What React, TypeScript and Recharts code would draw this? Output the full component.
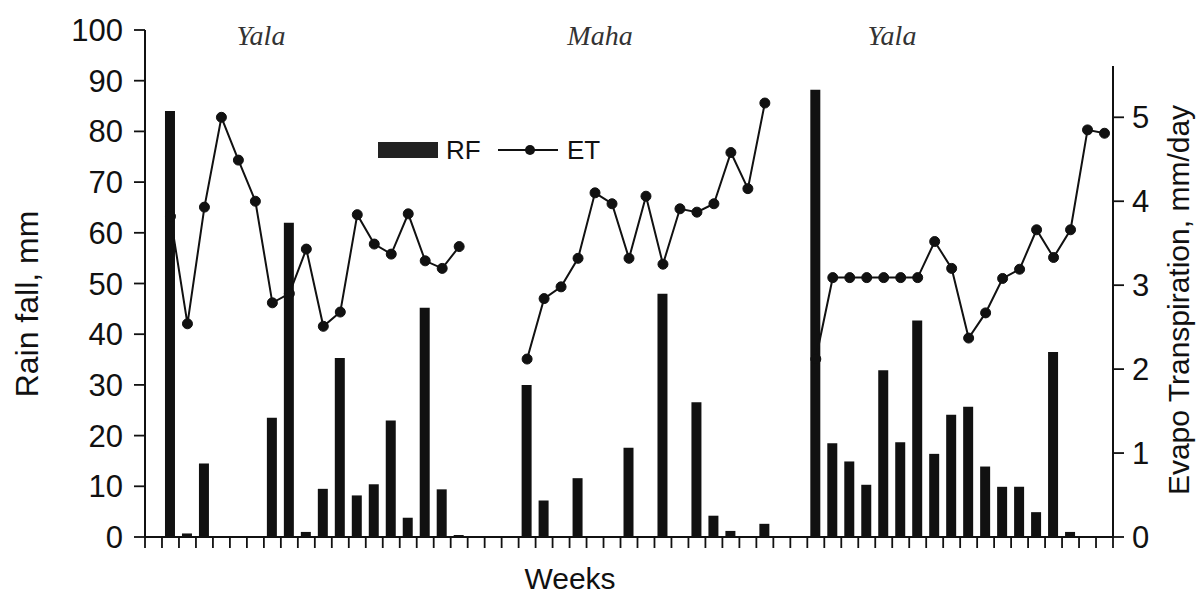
import { Bar, ComposedChart, Line, XAxis, YAxis } from 'recharts';

// ─── Data ───────────────────────────────────────────────────────────────────

// Weekly rainfall, mm (left axis)
const RAINFALL = [
  0, 84, 0.7, 14.5, 0, 0, 0, 23.5, 62, 1, 9.5, 35.3, 8.2, 10.4, 23, 3.8, 45.2, 9.4, 0.4,
  0, 0, 0,
  30, 7.2, 0, 11.6, 0, 0, 17.6, 0, 48, 0, 26.6, 4.2, 1.2, 0, 2.6,
  0, 0,
  88.2, 18.5, 14.9, 10.3, 32.9, 18.7, 42.7, 16.4, 24.1, 25.7, 13.9, 9.9, 9.9, 4.9, 36.5, 1.0, 0, 0,
];

// Weekly evapotranspiration, mm/day (right axis); null = no reading
const EVAPO = [
  null, 3.82, 2.54, 3.93, 5.0, 4.49, 4.0, 2.79, 2.9, 3.43, 2.51, 2.68, 3.84, 3.49, 3.37, 3.85, 3.29, 3.2, 3.46,
  null, null, null,
  2.12, 2.84, 2.98, 3.32, 4.1, 3.97, 3.32, 4.06, 3.25, 3.91, 3.87, 3.97, 4.58, 4.15, 5.17,
  null, null,
  2.12, 3.09, 3.09, 3.09, 3.09, 3.09, 3.09, 3.52, 3.2, 2.37, 2.67, 3.08, 3.19, 3.66, 3.33, 3.66, 4.85, 4.81,
];

const WEEKS = RAINFALL.map((_, i) => i + 1);

const RF_TICKS = [0, 10, 20, 30, 40, 50, 60, 70, 80, 90, 100];
const ET_TICKS = [0, 1, 2, 3, 4, 5];

const SEASONS = ['Yala', 'Maha', 'Yala'];

// ─── Layout ─────────────────────────────────────────────────────────────────

const WIDTH = 1203;
const HEIGHT = 594;
const PLOT_LEFT = 145;
const PLOT_RIGHT = 1113;
const PLOT_TOP = 30;
const PLOT_BOTTOM = 537;
const ET_MAX = 6.04;
const ET_AXIS_TOP = 5.61;

const SANS = '"Liberation Sans", Arial, sans-serif';
const SERIF = '"Liberation Serif", "Times New Roman", serif';
const INK = '#111';

const SEASON_X = [261, 600, 892];

const chartData = WEEKS.map((week, i) => ({
  week,
  rf: RAINFALL[i],
  et: EVAPO[i],
}));

function WeekTick(props: any) {
  const { x, y, index } = props;
  const step = (PLOT_RIGHT - PLOT_LEFT) / WEEKS.length;
  const left = x - step / 2;
  return (
    <g>
      <line x1={left} y1={y} x2={left} y2={y + 11} stroke={INK} strokeWidth={1.8} />
      {index === WEEKS.length - 1 && (
        <line x1={x + step / 2} y1={y} x2={x + step / 2} y2={y + 11} stroke={INK} strokeWidth={1.8} />
      )}
    </g>
  );
}

function RainTitle() {
  return (
    <text
      x={38}
      y={304}
      transform="rotate(-90 38 304)"
      textAnchor="middle"
      fontFamily={SANS}
      fontSize={32}
      fill={INK}
    >
      Rain fall, mm
    </text>
  );
}

function EvapoTitle() {
  const yTop = PLOT_BOTTOM - (ET_AXIS_TOP / ET_MAX) * (PLOT_BOTTOM - PLOT_TOP);
  return (
    <g>
      <line x1={PLOT_RIGHT} y1={yTop} x2={PLOT_RIGHT} y2={PLOT_BOTTOM} stroke={INK} strokeWidth={2} />
      <text
        x={1189}
        y={300}
        transform="rotate(-90 1189 300)"
        textAnchor="middle"
        fontFamily={SANS}
        fontSize={30}
        fill={INK}
      >
        Evapo Transpiration, mm/day
      </text>
    </g>
  );
}

function WeeksTitle() {
  return (
    <text x={570} y={589} textAnchor="middle" fontFamily={SANS} fontSize={30} fill={INK}>
      Weeks
    </text>
  );
}

function Overlay() {
  return (
    <svg
      width={WIDTH}
      height={HEIGHT}
      style={{ position: 'absolute', left: 0, top: 0, pointerEvents: 'none' }}
    >
      {SEASONS.map((name, i) => (
        <text
          key={i}
          x={SEASON_X[i]}
          y={45}
          textAnchor="middle"
          fontFamily={SERIF}
          fontStyle="italic"
          fontSize={28}
          fill="#333"
        >
          {name}
        </text>
      ))}
      {/* legend */}
      <rect x={378} y={142} width={60} height={16} fill="#222" />
      <text x={446} y={159} fontFamily={SANS} fontSize={26} fill={INK}>
        RF
      </text>
      <line x1={498} y1={150} x2={558} y2={150} stroke={INK} strokeWidth={2} />
      <circle cx={530} cy={150} r={5} fill={INK} />
      <text x={567} y={159} fontFamily={SANS} fontSize={26} fill={INK}>
        ET
      </text>
    </svg>
  );
}

export default function App() {
  return (
    <div style={{ position: 'relative', width: WIDTH, height: HEIGHT, background: '#fff' }}>
      <style>{'body{margin:0}'}</style>
      <ComposedChart
        width={WIDTH}
        height={HEIGHT}
        data={chartData}
        margin={{ top: PLOT_TOP, right: 0, bottom: 0, left: 0 }}
      >
        <XAxis
          dataKey="week"
          height={HEIGHT - PLOT_BOTTOM}
          interval={0}
          tickLine={false}
          tickSize={0}
          tickMargin={0}
          tick={<WeekTick />}
          axisLine={{ stroke: INK, strokeWidth: 2 }}
          label={<WeeksTitle />}
        />
        <YAxis
          yAxisId="rf"
          orientation="left"
          width={PLOT_LEFT}
          domain={[0, 100]}
          ticks={RF_TICKS}
          interval={0}
          tickSize={11}
          tickMargin={11}
          axisLine={{ stroke: INK, strokeWidth: 2 }}
          tickLine={{ stroke: INK, strokeWidth: 1.8 }}
          tick={{ fill: INK, fontSize: 31, fontFamily: SANS }}
          label={<RainTitle />}
        />
        <YAxis
          yAxisId="et"
          orientation="right"
          width={WIDTH - PLOT_RIGHT}
          domain={[0, ET_MAX]}
          ticks={ET_TICKS}
          interval={0}
          tickSize={11}
          tickMargin={8}
          axisLine={false}
          tickLine={{ stroke: INK, strokeWidth: 1.8 }}
          tick={{ fill: INK, fontSize: 31, fontFamily: SANS }}
          label={<EvapoTitle />}
        />
        <Bar yAxisId="rf" dataKey="rf" fill={INK} barSize={10} isAnimationActive={false} />
        <Line
          yAxisId="et"
          dataKey="et"
          type="linear"
          stroke={INK}
          strokeWidth={2}
          dot={{ r: 5, fill: INK, stroke: INK, strokeWidth: 1 }}
          activeDot={false}
          connectNulls={false}
          isAnimationActive={false}
        />
      </ComposedChart>
      <Overlay />
    </div>
  );
}
